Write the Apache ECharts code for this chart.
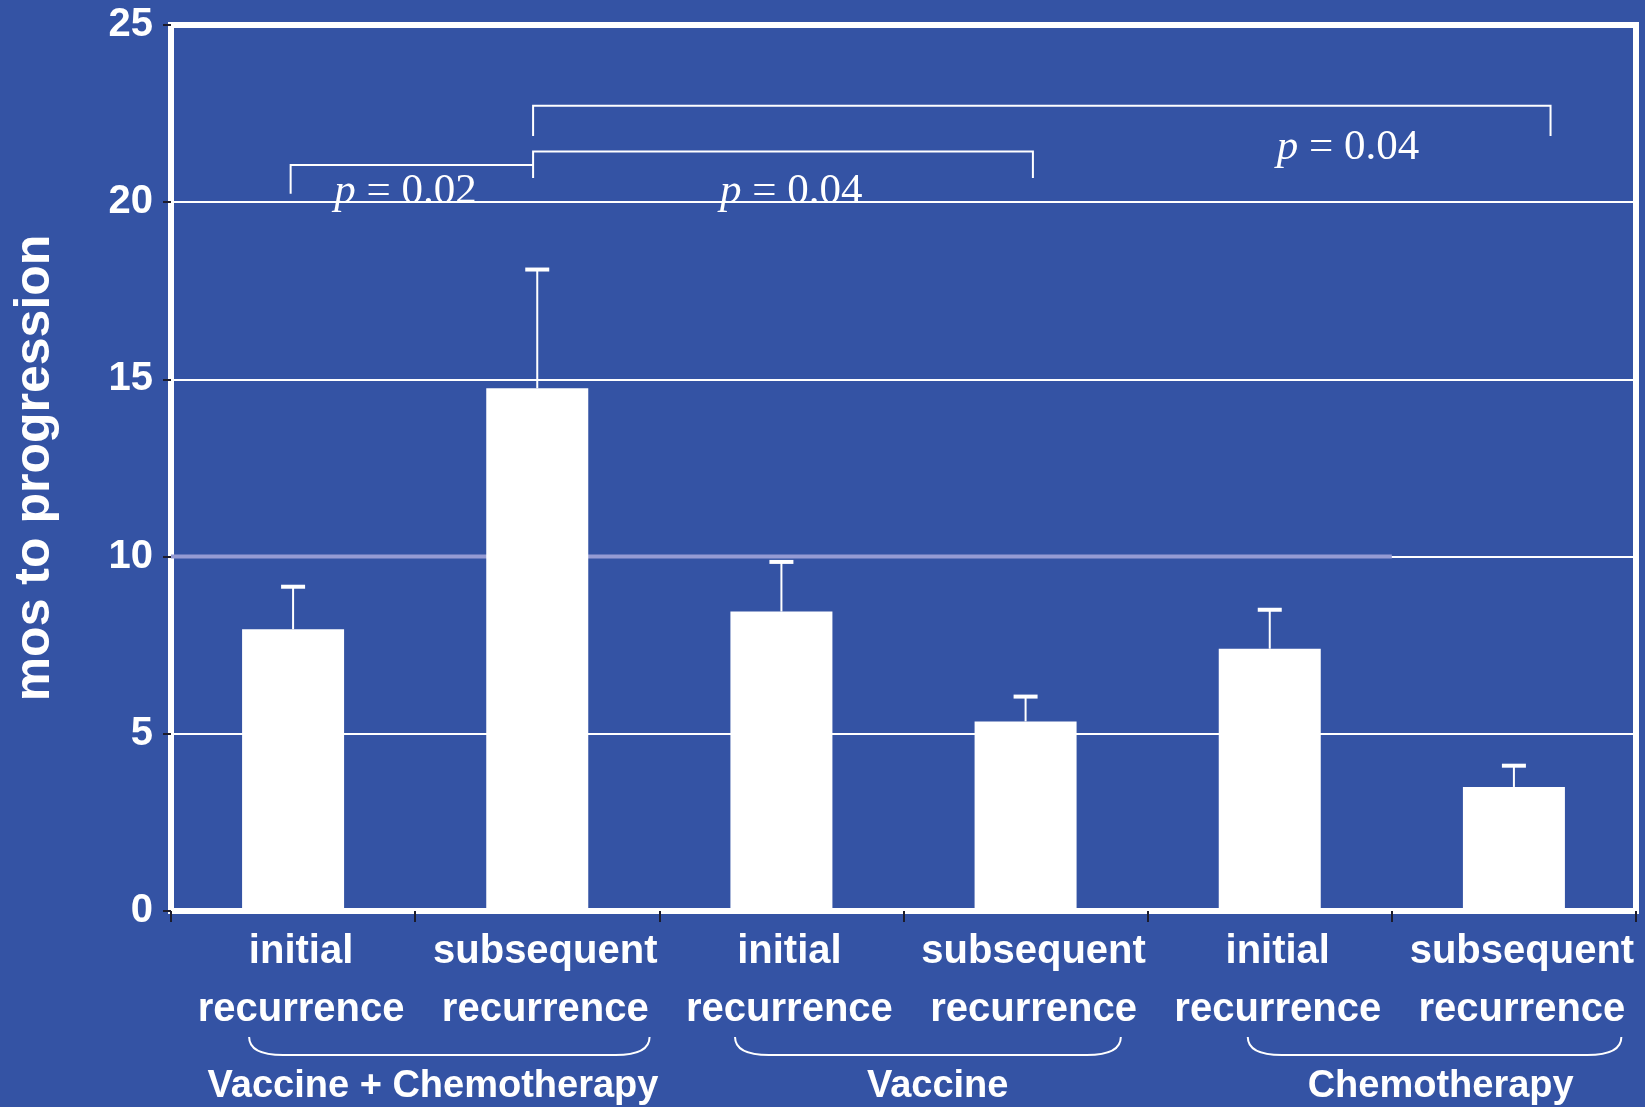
<!DOCTYPE html>
<html>
<head>
<meta charset="utf-8">
<title>mos to progression</title>
<script src="https://cdn.jsdelivr.net/npm/echarts@6/dist/echarts.min.js"></script>
<style>
html, body { margin: 0; padding: 0; background: #3453a4; }
#main { width: 1645px; height: 1107px; }
</style>
</head>
<body>
<div id="main"></div>
<script>
//数据
var categories = ['initial\nrecurrence', 'subsequent\nrecurrence', 'initial\nrecurrence',
    'subsequent\nrecurrence', 'initial\nrecurrence', 'subsequent\nrecurrence'];
var means = [7.95, 14.75, 8.45, 5.35, 7.4, 3.5];
var errTop = [9.15, 18.1, 9.85, 6.05, 8.5, 4.1];
var yTicks = [0, 5, 10, 15, 20, 25];

//下方分组
var groupNames = ['Vaccine + Chemotherapy', 'Vaccine', 'Chemotherapy'];
var groupFrom = [-0.18, 1.81, 3.91];
var groupTo = [1.46, 3.39, 5.44];
var groupLabelX = [0.573, 2.64, 4.70];

//p值括号
var pValues = ['0.02', '0.04', '0.04'];
var bracketFrom = [-0.01, 0.983, 0.983];
var bracketTo = [0.983, 3.03, 5.15];
var bracketLevel = [21.05, 21.43, 22.72];
var bracketLeftEnd = [20.24, 20.68, 21.87];
var bracketRightEnd = [21.05, 20.68, 21.87];
var pLabelX = [0.46, 2.04, 4.32];
var pLabelY = [20.3, 20.3, 21.54];

//10 处那条淡紫色线
var band10 = [[-0.5, 4.5, 10]];

var white = '#ffffff';
var tickColor = '#1c1c2c';
var sans = '"Liberation Sans", Arial, sans-serif';
var serif = '"Liberation Serif", "Times New Roman", serif';

var errData = [];
for (var i = 0; i < means.length; i++) {
    errData.push([i, means[i], errTop[i]]);
}
var bracketData = [];
for (var i = 0; i < pValues.length; i++) {
    bracketData.push([bracketFrom[i], bracketTo[i], bracketLevel[i], bracketLeftEnd[i],
        bracketRightEnd[i], pLabelX[i], pLabelY[i]]);
}
var groupData = [];
for (var i = 0; i < groupNames.length; i++) {
    groupData.push([groupFrom[i], groupTo[i], groupLabelX[i]]);
}

//误差线
function renderErr(params, api) {
    var lo = api.coord([api.value(0), api.value(1)]);
    var hi = api.coord([api.value(0), api.value(2)]);
    return {
        type: 'group',
        children: [
            { type: 'line', shape: { x1: lo[0], y1: lo[1], x2: hi[0], y2: hi[1] },
              style: { stroke: white, lineWidth: 2 } },
            { type: 'line', shape: { x1: hi[0] - 12, y1: hi[1], x2: hi[0] + 12, y2: hi[1] },
              style: { stroke: white, lineWidth: 4 } }
        ]
    };
}

//括号 + p值
function renderBracket(params, api) {
    var a = api.coord([api.value(0), api.value(3)]);
    var b = api.coord([api.value(0), api.value(2)]);
    var c = api.coord([api.value(1), api.value(2)]);
    var d = api.coord([api.value(1), api.value(4)]);
    var t = api.coord([api.value(5), api.value(6)]);
    return {
        type: 'group',
        children: [
            { type: 'polyline', shape: { points: [a, b, c, d] },
              style: { stroke: white, lineWidth: 2, fill: null } },
            { type: 'text', x: t[0], y: t[1],
              style: {
                  text: '{i|p} = ' + pValues[params.dataIndex],
                  fill: white, align: 'center', verticalAlign: 'middle',
                  fontSize: 43, fontFamily: serif,
                  rich: { i: { fontStyle: 'italic', fontSize: 43, fontFamily: serif, fill: white } }
              } }
        ]
    };
}

//分组花括号
function renderGroup(params, api) {
    var p1 = api.coord([api.value(0), 0]);
    var p2 = api.coord([api.value(1), 0]);
    var pt = api.coord([api.value(2), 0]);
    var top = p1[1] + 126;
    var bottom = p1[1] + 144;
    var r = 34;
    var x1 = p1[0], x2 = p2[0];
    var d = 'M' + x1 + ' ' + top + ' Q' + x1 + ' ' + bottom + ' ' + (x1 + r) + ' ' + bottom +
        ' L' + (x2 - r) + ' ' + bottom + ' Q' + x2 + ' ' + bottom + ' ' + x2 + ' ' + top;
    return {
        type: 'group',
        children: [
            { type: 'path', shape: { pathData: d }, style: { stroke: white, lineWidth: 2, fill: null } },
            { type: 'text', x: pt[0], y: p1[1] + 176,
              style: { text: groupNames[params.dataIndex], fill: white, align: 'center',
                       verticalAlign: 'middle', fontSize: 38, fontWeight: 'bold', fontFamily: sans } }
        ]
    };
}

//淡紫色网格线
function renderBand(params, api) {
    var a = api.coord([api.value(0), api.value(2)]);
    var b = api.coord([api.value(1), api.value(2)]);
    return { type: 'line', shape: { x1: a[0], y1: a[1], x2: b[0], y2: b[1] },
             style: { stroke: '#959bd3', lineWidth: 4 } };
}

var chart = echarts.init(document.getElementById('main'));
chart.setOption({
    backgroundColor: '#3453a4',
    animation: false,
    grid: {
        left: 171,
        right: 9,
        top: 25,
        bottom: 196,
        show: true,
        borderColor: white,
        borderWidth: 6
    },
    xAxis: [
        {
            type: 'category',
            data: categories,
            boundaryGap: true,
            axisLine: { show: false },
            axisTick: { show: true, length: 11, lineStyle: { color: tickColor, width: 2 } },
            axisLabel: {
                interval: 0,
                color: white,
                fontSize: 40,
                fontWeight: 'bold',
                fontFamily: sans,
                lineHeight: 58,
                margin: 12,
                padding: [0, 0, 0, 16]
            }
        },
        {
            type: 'value',
            min: -0.5,
            max: 5.5,
            show: false
        }
    ],
    yAxis: {
        type: 'value',
        min: yTicks[0],
        max: yTicks[yTicks.length - 1],
        interval: 5,
        name: 'mos to progression',
        nameLocation: 'middle',
        nameRotate: 90,
        nameGap: 111,
        nameTextStyle: { color: white, fontSize: 50, fontWeight: 'bold', fontFamily: sans },
        axisLine: { show: false, onZero: false },
        axisTick: { show: true, length: 8, lineStyle: { color: tickColor, width: 2 } },
        axisLabel: { color: white, fontSize: 40, fontWeight: 'bold', fontFamily: sans, margin: 18 },
        splitLine: { lineStyle: { color: white, width: 2 } }
    },
    series: [
        {
            type: 'custom',
            xAxisIndex: 1,
            data: band10,
            renderItem: renderBand,
            z: 1
        },
        {
            type: 'bar',
            data: means,
            barWidth: 102,
            itemStyle: { color: white },
            z: 2
        },
        {
            type: 'custom',
            data: errData,
            renderItem: renderErr,
            z: 3
        },
        {
            type: 'custom',
            xAxisIndex: 1,
            data: bracketData,
            renderItem: renderBracket,
            clip: false,
            z: 3
        },
        {
            type: 'custom',
            xAxisIndex: 1,
            data: groupData,
            renderItem: renderGroup,
            clip: false,
            z: 3
        }
    ]
});
</script>
</body>
</html>
